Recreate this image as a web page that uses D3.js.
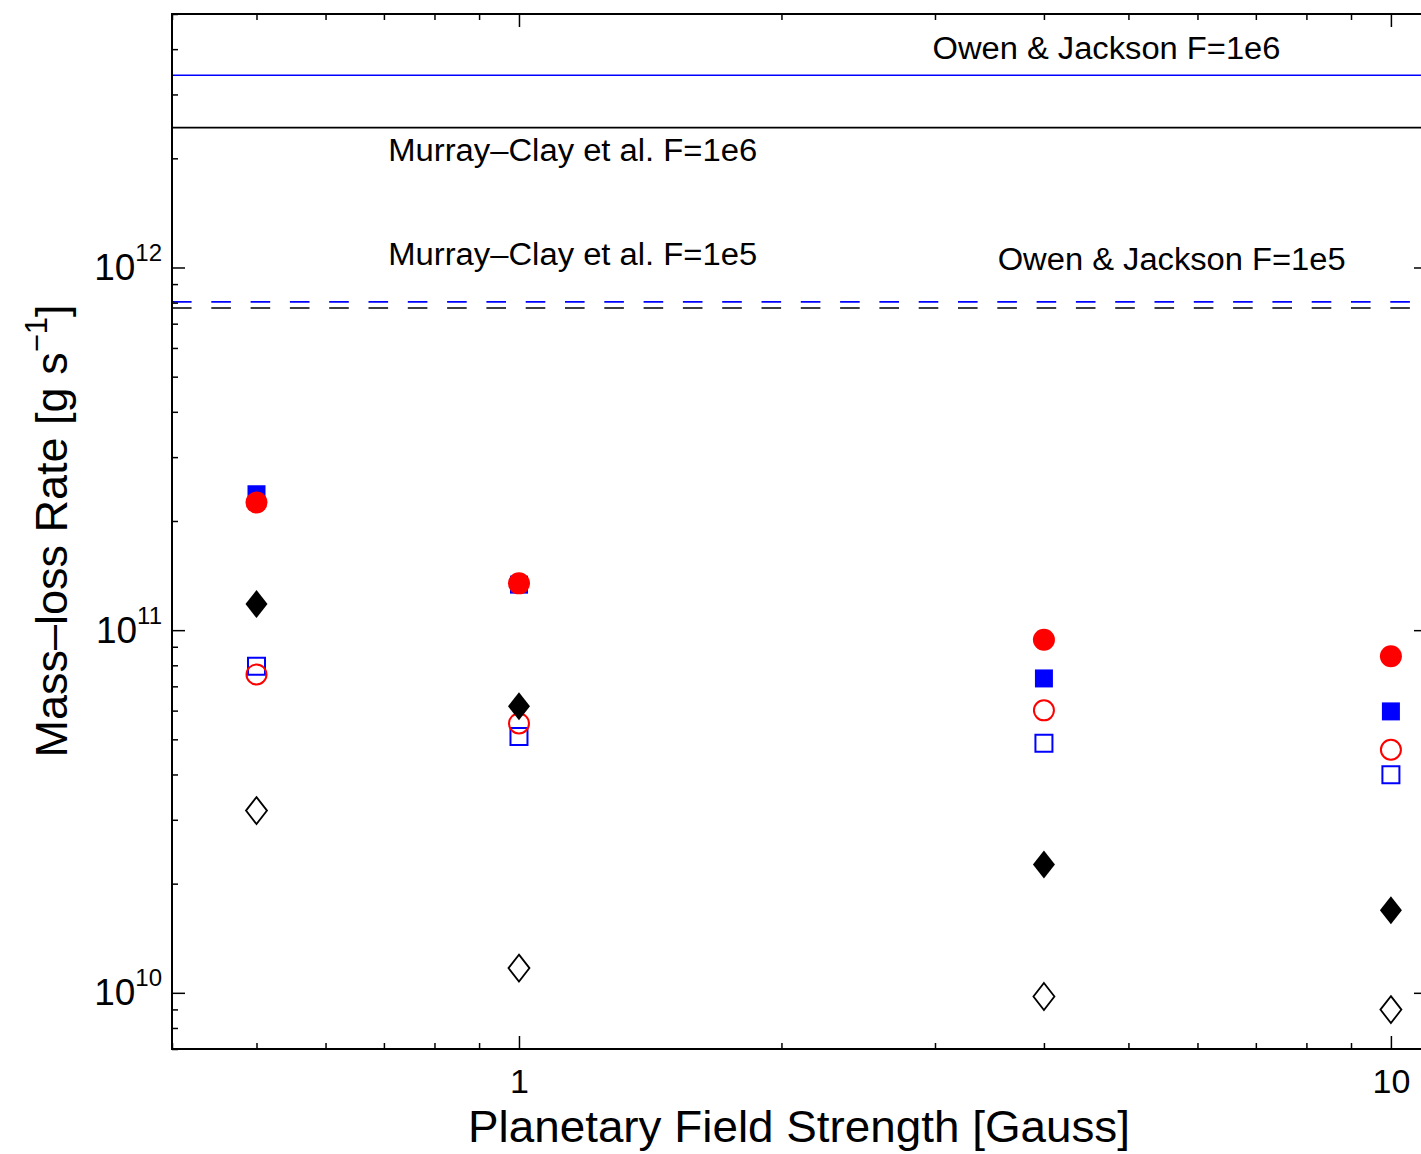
<!DOCTYPE html>
<html>
<head>
<meta charset="utf-8">
<script src="https://cdn.jsdelivr.net/npm/d3@7"></script>
<style>
  body { margin: 0; background: #fff; }
  svg { display: block; font-family: "Liberation Sans", Arial, Helvetica, sans-serif; }
</style>
</head>
<body>
<script>
const width = 1421;
const height = 1154;

// field strengths [Gauss]
const fields = [0.5, 1, 4, 10];

// mass-loss rates [g/s] per series
const openSquareBlue = [7.95e10, 5.09e10, 4.88e10, 3.99e10];
const openCircleRed = [7.55e10, 5.53e10, 6.01e10, 4.68e10];
const openDiamondBlack = [3.18e10, 1.17e10, 9.77e9, 8.99e9];
const filledSquareBlue = [2.37e11, 1.335e11, 7.36e10, 5.97e10];
const filledCircleRed = [2.25e11, 1.346e11, 9.41e10, 8.47e10];
const filledDiamondBlack = [1.18e11, 6.17e10, 2.26e10, 1.69e10];

// reference rates (horizontal lines)
const refLabels = ["Owen & Jackson F=1e6", "Murray\u2013Clay et al. F=1e6", "Owen & Jackson F=1e5", "Murray\u2013Clay et al. F=1e5"];
const refRates = [3.39e12, 2.43e12, 8.04e11, 7.73e11];

// ticks
const xMajor = [1, 10];
const xMinor = [0.4, 0.5, 0.6, 0.7, 0.8, 0.9, 2, 3, 4, 5, 6, 7, 8, 9];
const yMajor = [1e10, 1e11, 1e12];
const yMinor = [7e9, 8e9, 9e9, 2e10, 3e10, 4e10, 5e10, 6e10, 7e10, 8e10, 9e10,
  2e11, 3e11, 4e11, 5e11, 6e11, 7e11, 8e11, 9e11, 2e12, 3e12, 4e12, 5e12];
const yMajorExp = ["10", "11", "12"];

const plotLeft = 172, plotRight = 1427, plotTop = 14, plotBottom = 1049;

const svg = d3.select("body").append("svg")
  .attr("width", width)
  .attr("height", height);

svg.append("rect").attr("width", width).attr("height", height).attr("fill", "#fff");

const x = d3.scaleLog().domain([0.4, 11]).range([plotLeft, plotRight]);
const y = d3.scaleLog().domain([7e9, 5e12]).range([plotBottom, plotTop]);

// reference lines
const refStyle = [
  { color: "#0000ff", dash: null },
  { color: "#000", dash: null },
  { color: "#0000ff", dash: "19.6,19.7" },
  { color: "#000", dash: "19.6,19.7" }
];
svg.append("g").selectAll("line")
  .data(refRates)
  .enter().append("line")
  .attr("x1", plotLeft).attr("x2", plotRight)
  .attr("y1", d => y(d)).attr("y2", d => y(d))
  .attr("stroke", (d, i) => refStyle[i].color)
  .attr("stroke-width", 1.6)
  .attr("stroke-dasharray", (d, i) => refStyle[i].dash);

// labels for reference lines
const labelPos = [
  { fx: 2.98, dy: -16, len: 348 },
  { fx: 0.708, dy: 33.5, len: 369 },
  { fx: 3.54, dy: -32, len: 348 },
  { fx: 0.708, dy: -43, len: 369 }
];
svg.append("g").selectAll("text")
  .data(refLabels)
  .enter().append("text")
  .attr("x", (d, i) => x(labelPos[i].fx))
  .attr("y", (d, i) => y(refRates[i]) + labelPos[i].dy)
  .attr("font-size", 31)
  .attr("textLength", (d, i) => labelPos[i].len)
  .attr("lengthAdjust", "spacingAndGlyphs")
  .text(d => d);

// markers
const diamond = (w, h) => `M0,${-h}L${w},0L0,${h}L${-w},0Z`;
const series = [
  { v: openSquareBlue, path: d3.symbol(d3.symbolSquare, 17 * 17)(), fill: "none", stroke: "#0000ff", sw: 2 },
  { v: openCircleRed, path: d3.symbol(d3.symbolCircle, Math.PI * 10 * 10)(), fill: "none", stroke: "#ff0000", sw: 2 },
  { v: openDiamondBlack, path: diamond(10.5, 13.5), fill: "none", stroke: "#000", sw: 1.8 },
  { v: filledSquareBlue, path: d3.symbol(d3.symbolSquare, 18 * 18)(), fill: "#0000ff", stroke: "none", sw: 0 },
  { v: filledCircleRed, path: d3.symbol(d3.symbolCircle, Math.PI * 11 * 11)(), fill: "#ff0000", stroke: "none", sw: 0 },
  { v: filledDiamondBlack, path: diamond(11, 14), fill: "#000", stroke: "none", sw: 0 }
];
series.forEach(s => {
  svg.append("g").selectAll("path")
    .data(s.v)
    .enter().append("path")
    .attr("d", s.path)
    .attr("transform", (d, i) => `translate(${x(fields[i])},${y(d)})`)
    .attr("fill", s.fill)
    .attr("stroke", s.stroke)
    .attr("stroke-width", s.sw);
});

// axes with inward ticks on all four sides
function styleAxis(g) {
  g.select(".domain").remove();
  g.selectAll(".tick line").attr("stroke", "#000").attr("stroke-width", 1.5);
}

svg.append("g").attr("transform", `translate(0,${plotBottom})`)
  .call(d3.axisBottom(x).tickValues(xMinor).tickSize(-6).tickFormat(""))
  .call(styleAxis);
svg.append("g").attr("transform", `translate(0,${plotTop})`)
  .call(d3.axisTop(x).tickValues(xMinor).tickSize(-6).tickFormat(""))
  .call(styleAxis);
svg.append("g").attr("transform", `translate(0,${plotTop})`)
  .call(d3.axisTop(x).tickValues(xMajor).tickSize(-13).tickFormat(""))
  .call(styleAxis);
svg.append("g").attr("transform", `translate(0,${plotBottom})`)
  .call(d3.axisBottom(x).tickValues(xMajor).tickSize(-13).tickFormat(d3.format("d")))
  .call(styleAxis)
  .call(g => g.selectAll(".tick text")
    .attr("y", 44).attr("dy", 0)
    .attr("fill", "#000")
    .attr("font-size", 34)
    .attr("font-family", "Liberation Sans, Arial, sans-serif"));

svg.append("g").attr("transform", `translate(${plotLeft},0)`)
  .call(d3.axisLeft(y).tickValues(yMinor).tickSize(-6).tickFormat(""))
  .call(styleAxis);
svg.append("g").attr("transform", `translate(${plotRight},0)`)
  .call(d3.axisRight(y).tickValues(yMinor).tickSize(-6).tickFormat(""))
  .call(styleAxis);
svg.append("g").attr("transform", `translate(${plotRight},0)`)
  .call(d3.axisRight(y).tickValues(yMajor).tickSize(-13).tickFormat(""))
  .call(styleAxis);
svg.append("g").attr("transform", `translate(${plotLeft},0)`)
  .call(d3.axisLeft(y).tickValues(yMajor).tickSize(-13).tickFormat(""))
  .call(styleAxis)
  .call(g => g.selectAll(".tick text").each(function(d, i) {
    const t = d3.select(this)
      .attr("x", -10).attr("dy", 0).attr("y", 12)
      .attr("fill", "#000")
      .attr("text-anchor", "end")
      .attr("font-family", "Liberation Sans, Arial, sans-serif");
    t.append("tspan").attr("font-size", 37).text("10");
    t.append("tspan").attr("font-size", 24).attr("dy", -19).text(yMajorExp[i]);
  }));

// frame
svg.append("rect")
  .attr("x", plotLeft).attr("y", plotTop)
  .attr("width", plotRight - plotLeft).attr("height", plotBottom - plotTop)
  .attr("fill", "none").attr("stroke", "#000").attr("stroke-width", 2);

// axis titles
svg.append("text")
  .attr("x", 799).attr("y", 1142)
  .attr("text-anchor", "middle")
  .attr("font-size", 45)
  .attr("textLength", 662)
  .attr("lengthAdjust", "spacingAndGlyphs")
  .text("Planetary Field Strength [Gauss]");

const yt = svg.append("text")
  .attr("transform", "translate(67,531) rotate(-90)")
  .attr("text-anchor", "middle")
  .attr("font-size", 45);
yt.append("tspan").text("Mass\u2013loss Rate [g s");
yt.append("tspan").attr("font-size", 31).attr("dy", -20).text("\u22121");
yt.append("tspan").attr("dy", 20).text("]");
</script>
</body>
</html>
